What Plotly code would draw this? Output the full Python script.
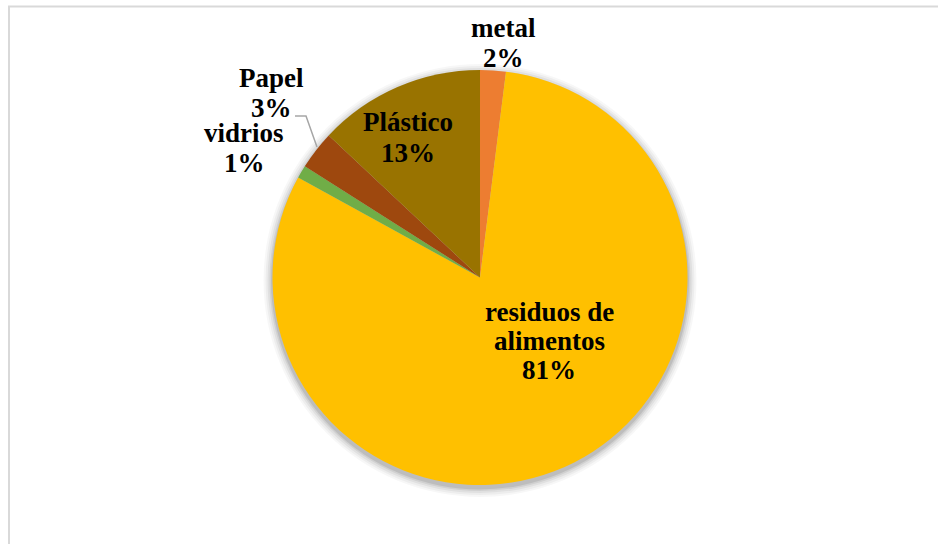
import plotly.graph_objects as go

# Composition of collected waste (percent)
labels = ["metal", "residuos de alimentos", "vidrios", "Papel", "Plástico"]
values = [2, 81, 1, 3, 13]
colors = ["#ED7D31", "#FFC000", "#70AD47", "#9E480E", "#997300"]

W, H = 938, 544
CX, CY, R = 480, 277.5, 207.5  # pie centre / radius in pixels


def px(x):
    return x / W


def py(y):
    return 1 - y / H


fig = go.Figure(
    go.Pie(
        labels=labels,
        values=values,
        marker=dict(colors=colors, line=dict(width=0)),
        sort=False,
        direction="clockwise",
        rotation=0,
        textinfo="none",
        hoverinfo="label+percent",
        showlegend=False,
        domain=dict(x=[px(CX - R), px(CX + R)], y=[py(CY + R), py(CY - R)]),
    )
)

# soft drop shadow beneath the pie
shapes = []
for grow, op in [(9, 0.03), (7, 0.04), (5, 0.05), (3, 0.07), (1.5, 0.09)]:
    shapes.append(dict(
        type="circle", xref="paper", yref="paper", layer="below",
        x0=px(CX - R - grow), x1=px(CX + R + grow),
        y0=py(CY + 3 + R + grow), y1=py(CY + 3 - R - grow),
        fillcolor=f"rgba(0,0,0,{op})", line=dict(width=0),
    ))

# chart frame
shapes.append(dict(
    type="rect", xref="paper", yref="paper",
    x0=px(9), x1=px(W + 10), y0=py(H + 10), y1=py(6.5),
    line=dict(color="#D9D9D9", width=2), fillcolor="rgba(0,0,0,0)",
))

# leader line for the Papel label
shapes.append(dict(
    type="path", xref="paper", yref="paper",
    path=f"M {px(295)} {py(116)} L {px(306)} {py(116)} L {px(317)} {py(147)}",
    line=dict(color="#A6A6A6", width=1.5),
))

# label text: one annotation per line, placed beside/inside each slice
label_lines = {
    "metal": ["metal"],
    "residuos de alimentos": ["residuos de", "alimentos"],
    "vidrios": ["vidrios"],
    "Papel": ["Papel"],
    "Plástico": ["Plástico"],
}
label_pos = {
    "metal": (503, 28, 30),
    "residuos de alimentos": (549, 312, 29),
    "vidrios": (244, 133, 30),
    "Papel": (271, 78, 30),
    "Plástico": (408, 122, 31),
}
font = dict(family="Liberation Serif", size=27, color="#000000")

annotations = []
for lab, val in zip(labels, values):
    x, y, step = label_pos[lab]
    lines = label_lines[lab] + [f"{val}%"]
    for k, t in enumerate(lines):
        annotations.append(dict(
            x=px(x), y=py(y + k * step), xref="paper", yref="paper",
            text=f"<b>{t}</b>", showarrow=False, font=font,
            xanchor="center", yanchor="middle",
        ))

fig.update_layout(
    width=W, height=H,
    margin=dict(l=0, r=0, t=0, b=0),
    paper_bgcolor="white", plot_bgcolor="white",
    shapes=shapes, annotations=annotations,
)

fig.write_html("out.html")
